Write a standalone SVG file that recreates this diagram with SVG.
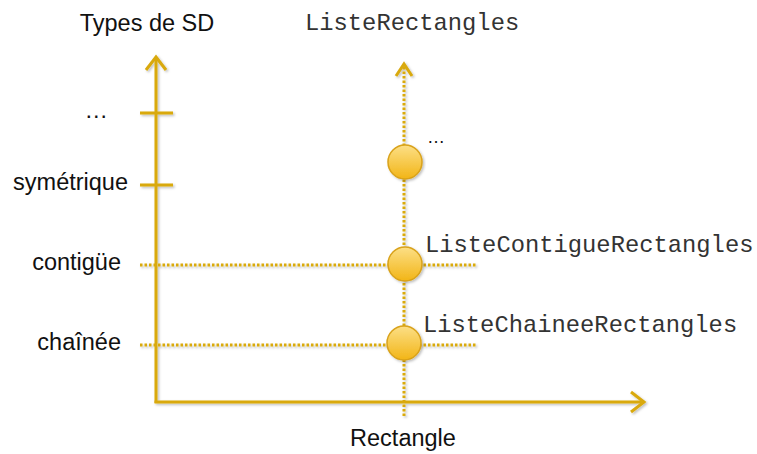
<svg xmlns="http://www.w3.org/2000/svg" width="757" height="454" viewBox="0 0 757 454">
  <style>
    .axis { stroke: #D9A90C; stroke-width: 3; fill: none; stroke-linecap: butt; }
    .dot { stroke: #D9A90C; stroke-width: 3; fill: none; stroke-dasharray: 2.5 2; }
    .head { stroke: #D9A90C; stroke-width: 3; fill: none; stroke-linejoin: miter; }
    .sans { font-family: "Liberation Sans", Arial, sans-serif; font-size: 23.5px; fill: #111; }
    .mono { font-family: "Liberation Mono", "Courier New", monospace; font-size: 23.8px; fill: #333; }
    .node circle { fill: url(#ball); stroke: #D9A21A; stroke-width: 1.5; }
  </style>
  <defs>
    <linearGradient id="ball" x1="0" y1="0" x2="0" y2="1">
      <stop offset="0" stop-color="#FCDF86"/>
      <stop offset="1" stop-color="#F2B517"/>
    </linearGradient>
    <filter id="shadow" x="-10%" y="-10%" width="120%" height="120%">
      <feDropShadow dx="1.5" dy="1.5" stdDeviation="1" flood-color="#000" flood-opacity="0.25"/>
    </filter>
  </defs>

  <rect width="757" height="454" fill="#fff"/>

  <!-- axes and guide lines -->
  <g id="connectors" filter="url(#shadow)">
    <line class="axis" x1="156" y1="403" x2="156" y2="57"/>
    <polyline class="head" points="146,70 156,57 166,70"/>
    <line class="axis" x1="154.5" y1="402" x2="643" y2="402"/>
    <polyline class="head" points="631,392 644,402 631,412"/>
    <line class="axis" x1="140" y1="113" x2="173" y2="113"/>
    <line class="axis" x1="140" y1="185" x2="173" y2="185"/>
    <line class="dot" x1="404" y1="416" x2="404" y2="64"/>
    <polyline class="head" points="396,76 404,64 412,76"/>
    <line class="dot" x1="140" y1="265" x2="476" y2="265"/>
    <line class="dot" x1="140" y1="345" x2="476" y2="345"/>
  </g>

  <!-- axis labels -->
  <text class="sans" x="147" y="31" text-anchor="middle">Types de SD</text>
  <text class="mono" x="305" y="30">ListeRectangles</text>
  <text class="sans" x="403" y="446" text-anchor="middle">Rectangle</text>
  <text class="sans" x="108" y="118" text-anchor="end">…</text>
  <text class="sans" x="128" y="190" text-anchor="end">symétrique</text>
  <text class="sans" x="121" y="270" text-anchor="end">contigüe</text>
  <text class="sans" x="121" y="350" text-anchor="end">chaînée</text>

  <!-- points -->
  <g id="node-etc" class="node" filter="url(#shadow)">
    <circle cx="405" cy="162" r="17"/>
  </g>
  <text class="sans" x="427" y="143" style="font-size:18px">…</text>
  <g id="node-contigue" class="node" filter="url(#shadow)">
    <circle cx="405" cy="264" r="17"/>
  </g>
  <text class="mono" x="425" y="252">ListeContigueRectangles</text>
  <g id="node-chainee" class="node" filter="url(#shadow)">
    <circle cx="404" cy="343" r="17"/>
  </g>
  <text class="mono" x="423" y="332">ListeChaineeRectangles</text>
</svg>
